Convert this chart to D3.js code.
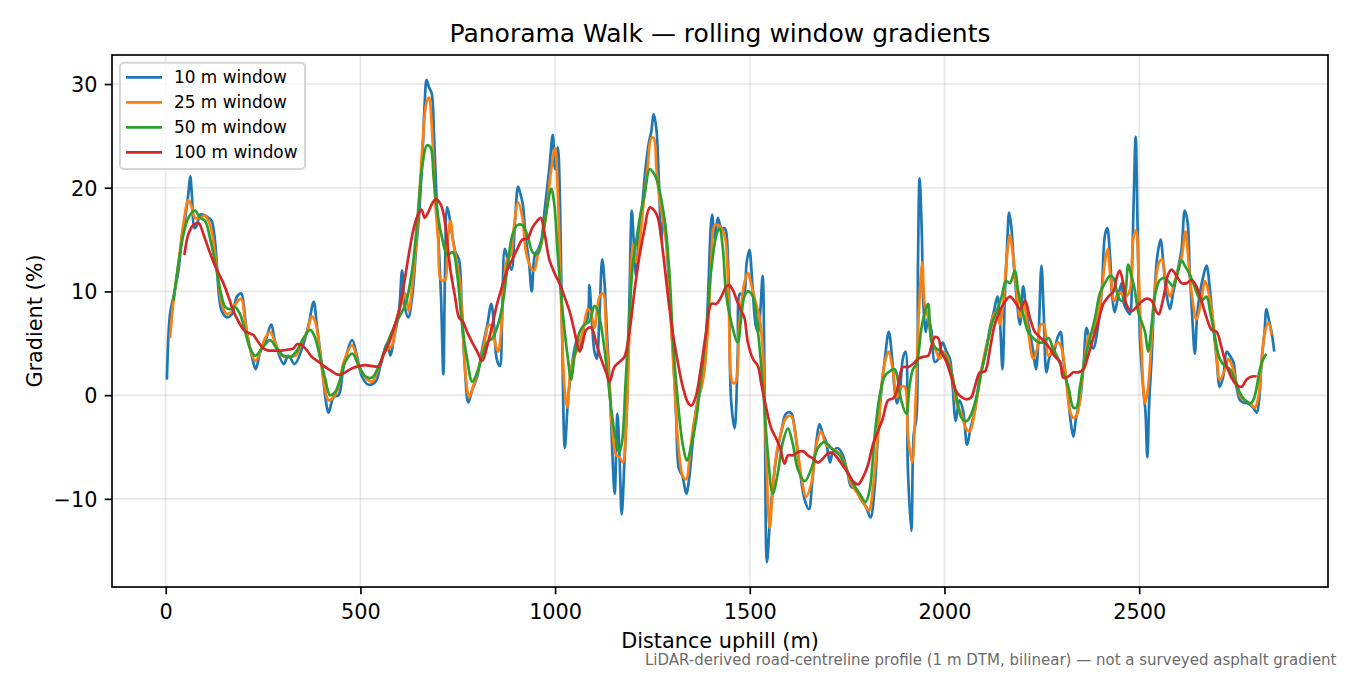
<!DOCTYPE html>
<html>
<head>
<meta charset="utf-8">
<script src="https://cdn.jsdelivr.net/npm/d3@7"></script>
<style>
  html, body { margin: 0; padding: 0; background: #ffffff; }
  svg { display: block; font-family: "DejaVu Sans", sans-serif; }
</style>
</head>
<body>
<svg id="chart" width="1350" height="675"></svg>
<script>
// ---------------- DATA ----------------
const titleText = "Panorama Walk \u2014 rolling window gradients";
const xLabelText = "Distance uphill (m)";
const yLabelText = "Gradient (%)";
const noteText = "LiDAR-derived road-centreline profile (1 m DTM, bilinear) \u2014 not a surveyed asphalt gradient";

const seriesNames = ["10 m window", "25 m window", "50 m window", "100 m window"];
const xTicks = [0, 500, 1000, 1500, 2000, 2500];
const yTicks = [-10, 0, 10, 20, 30];

// [distance (m), gradient (%)]
const win10 = [[3,1.5],[11,7.8],[20,9.5],[33,12.1],[41,15.1],[50,17.1],[58,19.4],[63,21.1],[67,19.4],[74,16.1],[80,16.4],[88,17.4],[97,17.4],[110,17.1],[118,16.8],[125,15.4],[131,12.8],[137,9.5],[144,8.1],[157,7.5],[170,7.8],[183,9.5],[194,9.8],[200,8.8],[208,6.1],[221,3.8],[231,2.5],[243,4.2],[255,5.1],[271,6.8],[281,5.1],[303,3.0],[315,3.8],[331,3.0],[350,4.5],[367,6.8],[380,9.0],[388,6.8],[401,2.8],[411,-0.5],[418,-1.7],[431,-0.2],[444,0],[457,2.8],[479,5.3],[491,3.8],[504,1.8],[521,1.0],[539,1.3],[551,2.8],[569,5.0],[577,3.8],[586,5.5],[599,8.1],[607,12.0],[614,8.5],[623,7.5],[633,9.5],[643,14.1],[650,17.1],[659,22.8],[665,28.1],[670,30.4],[676,29.7],[683,29.1],[689,25.1],[695,19.4],[701,14.5],[707,9.5],[713,2.0],[717,11.1],[723,18.1],[729,17.1],[736,15.4],[744,13.8],[753,13.1],[760,8.8],[768,2.8],[777,-0.7],[787,0.5],[800,1.8],[813,4.5],[826,6.8],[836,8.8],[843,6.8],[850,3.5],[858,2.8],[864,7.5],[871,14.1],[880,12.8],[888,12.1],[897,16.8],[905,20.1],[911,19.4],[917,18.4],[924,15.4],[933,12.8],[940,10.0],[948,13.5],[957,14.1],[965,15.0],[973,17.8],[985,21.8],[994,25.1],[1000,21.8],[1007,23.9],[1013,17.8],[1018,6.1],[1025,-5.1],[1033,-0.5],[1041,2.2],[1050,4.5],[1058,5.5],[1067,4.5],[1075,6.8],[1084,7.5],[1088,10.6],[1095,6.8],[1101,4.2],[1107,3.5],[1114,7.8],[1121,13.1],[1127,10.8],[1133,6.1],[1140,1.2],[1147,-5.5],[1153,-9.5],[1160,-1.8],[1166,-6.5],[1171,-11.5],[1178,-6.5],[1185,-0.5],[1191,9.5],[1197,17.8],[1202,14.8],[1208,11.5],[1215,15.4],[1224,18.4],[1232,21.8],[1241,24.4],[1247,25.4],[1253,27.1],[1260,25.7],[1267,20.1],[1273,15.1],[1279,17.1],[1287,14.1],[1294,9.5],[1303,4.2],[1311,-2.2],[1318,-7.1],[1327,-7.8],[1337,-9.5],[1345,-7.8],[1354,-4.2],[1363,-1.2],[1375,0.8],[1384,2.8],[1392,8.8],[1403,17.4],[1410,15.1],[1418,17.1],[1427,16.1],[1435,16.1],[1439,15.8],[1446,10.8],[1452,-0.5],[1461,-3.2],[1469,3.8],[1475,9.8],[1484,9.5],[1492,12.8],[1499,14.0],[1506,11.1],[1515,6.8],[1521,6.1],[1527,8.1],[1533,11.5],[1538,1.2],[1544,-16.1],[1551,-12.5],[1559,-8.8],[1569,-5.8],[1581,-3.5],[1593,-1.8],[1606,-1.7],[1615,-3.2],[1628,-7.1],[1641,-10.1],[1652,-11.0],[1660,-8.5],[1671,-4.5],[1679,-2.8],[1688,-3.8],[1696,-4.5],[1706,-6.5],[1713,-5.5],[1726,-5.1],[1739,-5.8],[1751,-7.5],[1760,-8.8],[1773,-9.1],[1786,-10.1],[1799,-10.8],[1810,-11.8],[1821,-8.8],[1829,-3.8],[1838,0.5],[1846,3.2],[1857,6.1],[1865,3.8],[1872,0.5],[1878,-0.8],[1885,0.2],[1893,3.5],[1900,4.2],[1906,-7.1],[1915,-13.1],[1921,-3.8],[1928,-2.2],[1932,12.8],[1936,20.9],[1942,15.4],[1945,9.5],[1952,6.1],[1958,7.5],[1967,6.1],[1975,3.2],[1984,3.5],[1995,5.1],[2005,4.2],[2014,3.5],[2021,0.8],[2029,-2.5],[2038,-0.5],[2048,-1.5],[2058,-4.8],[2067,-3.2],[2078,-1.5],[2091,1.8],[2104,3.8],[2117,6.5],[2127,8.1],[2136,9.5],[2142,7.5],[2149,2.5],[2155,9.5],[2161,14.5],[2166,17.6],[2172,16.1],[2179,12.1],[2185,9.5],[2194,6.8],[2202,10.5],[2211,7.8],[2219,6.1],[2228,4.2],[2235,2.5],[2241,5.1],[2249,12.5],[2255,7.8],[2262,2.2],[2271,3.8],[2281,4.2],[2290,5.5],[2298,6.1],[2305,3.5],[2314,1.2],[2324,-2.5],[2331,-4.0],[2338,-2.2],[2348,-0.5],[2357,2.8],[2365,6.5],[2374,5.1],[2382,4.5],[2395,6.8],[2404,10.1],[2412,15.4],[2418,16.1],[2425,13.5],[2431,9.5],[2437,8.0],[2446,9.5],[2455,10.8],[2461,8.8],[2470,8.1],[2476,7.8],[2482,12.8],[2486,18.8],[2491,24.9],[2496,16.1],[2502,5.5],[2510,0.8],[2516,-1.5],[2521,-6.0],[2526,-0.5],[2532,3.5],[2539,9.5],[2547,13.5],[2555,15.0],[2562,12.8],[2570,9.8],[2579,8.3],[2587,9.8],[2596,11.5],[2609,14.1],[2617,17.8],[2624,16.8],[2630,11.8],[2636,7.8],[2643,4.0],[2649,7.8],[2656,9.8],[2665,11.5],[2673,12.5],[2682,10.1],[2690,6.8],[2699,3.5],[2707,0.8],[2716,1.8],[2725,4.2],[2733,3.8],[2742,3.2],[2750,0.8],[2759,-0.5],[2767,-0.7],[2780,-0.8],[2793,-1.2],[2802,-1.7],[2808,-0.5],[2815,3.5],[2822,6.1],[2827,8.3],[2834,7.1],[2840,6.1],[2847,4.2]];

const win25 = [[11,5.5],[20,9.1],[33,12.8],[45,16.4],[58,18.8],[67,18.1],[75,17.1],[88,17.1],[101,17.3],[114,16.4],[125,14.1],[135,11.1],[144,8.8],[157,7.8],[170,8.1],[183,9.0],[194,9.3],[204,7.1],[217,4.5],[230,3.3],[243,4.2],[255,5.5],[268,6.1],[281,5.1],[298,3.8],[315,3.7],[333,3.8],[350,5.1],[363,6.1],[375,7.6],[384,7.1],[397,3.8],[408,0.8],[418,-0.5],[431,-0.2],[444,0.8],[457,3.2],[479,4.8],[496,2.8],[513,1.7],[530,1.3],[547,2.7],[564,4.2],[581,4.8],[594,7.5],[605,8.8],[616,9.8],[624,8.1],[633,10.5],[646,16.1],[659,23.8],[669,28.1],[676,28.7],[683,26.1],[691,19.4],[700,14.8],[707,11.1],[717,11.1],[724,14.8],[731,16.8],[738,14.8],[746,13.1],[755,11.1],[763,6.1],[772,1.2],[779,-0.2],[791,1.0],[804,2.7],[817,4.8],[830,6.8],[839,6.5],[847,4.8],[854,4.2],[861,6.1],[869,11.1],[877,13.1],[886,13.5],[894,16.1],[905,18.6],[916,17.1],[924,14.1],[935,12.5],[946,12.0],[957,13.8],[964,14.5],[977,17.4],[990,21.8],[1000,23.8],[1007,19.4],[1015,9.5],[1024,0.8],[1031,-1.2],[1039,2.2],[1047,3.5],[1058,4.5],[1071,6.1],[1084,8.3],[1093,7.8],[1101,6.5],[1114,9.5],[1123,9.8],[1131,6.1],[1140,0.5],[1148,-3.8],[1157,-5.8],[1166,-6.0],[1174,-6.5],[1183,-2.2],[1191,6.1],[1200,14.5],[1208,12.8],[1219,15.4],[1227,18.4],[1238,22.1],[1247,24.8],[1253,24.8],[1261,21.4],[1270,18.4],[1281,16.1],[1290,12.8],[1298,6.8],[1309,-0.5],[1318,-5.5],[1328,-7.8],[1337,-8.1],[1345,-6.1],[1354,-3.2],[1367,-0.5],[1380,1.5],[1392,6.1],[1401,12.8],[1410,16.4],[1418,16.4],[1427,16.1],[1437,15.1],[1446,8.5],[1456,1.2],[1463,1.2],[1473,6.8],[1486,10.8],[1495,11.8],[1503,10.8],[1516,8.8],[1525,7.5],[1533,4.5],[1542,-5.5],[1551,-12.8],[1559,-9.1],[1569,-5.5],[1581,-3.5],[1593,-2.2],[1606,-2.0],[1619,-4.2],[1632,-7.8],[1645,-9.8],[1658,-8.5],[1671,-4.8],[1683,-3.5],[1696,-4.8],[1709,-5.1],[1726,-5.5],[1743,-6.5],[1760,-8.5],[1777,-9.5],[1794,-10.5],[1806,-11.1],[1816,-9.1],[1829,-3.8],[1840,1.5],[1849,3.5],[1857,4.2],[1868,2.2],[1878,-0.2],[1889,0.8],[1898,0.8],[1906,-3.8],[1917,-6.5],[1926,-0.5],[1934,7.8],[1943,12.8],[1949,8.8],[1958,7.5],[1967,5.5],[1979,4.2],[1988,3.5],[1997,4.2],[2009,3.5],[2021,1.5],[2031,-0.8],[2044,-1.8],[2055,-3.2],[2065,-3.5],[2078,-1.5],[2091,1.5],[2104,4.2],[2117,6.1],[2127,7.8],[2136,8.1],[2142,6.8],[2151,8.8],[2159,12.8],[2168,15.4],[2176,13.5],[2185,10.1],[2195,7.5],[2204,8.8],[2215,6.1],[2228,3.5],[2238,4.5],[2247,6.8],[2255,6.8],[2267,3.8],[2279,4.5],[2292,5.1],[2301,4.5],[2312,1.8],[2322,-1.5],[2331,-2.2],[2341,-1.8],[2352,1.2],[2361,3.8],[2372,5.8],[2382,6.1],[2395,7.8],[2404,10.1],[2412,12.8],[2419,14.1],[2426,11.5],[2436,9.1],[2446,9.8],[2455,9.8],[2465,9.5],[2476,10.1],[2485,15.1],[2492,15.9],[2499,11.5],[2506,4.5],[2515,-0.8],[2523,0.8],[2532,5.5],[2542,10.8],[2551,12.8],[2559,13.1],[2568,11.1],[2579,9.5],[2590,10.8],[2600,12.1],[2610,13.5],[2619,15.8],[2627,12.8],[2636,9.5],[2647,7.3],[2658,8.8],[2669,11.0],[2677,10.1],[2688,7.8],[2699,3.8],[2707,1.5],[2719,2.3],[2729,3.5],[2739,2.8],[2750,1.2],[2761,-0.2],[2772,-0.5],[2785,-0.8],[2797,-1.2],[2806,-0.2],[2815,3.5],[2823,6.1],[2832,7.0],[2840,5.8]];

const win50 = [[20,9.1],[33,12.8],[45,15.4],[58,17.1],[75,17.8],[88,17.1],[101,16.8],[114,15.1],[127,12.8],[140,10.1],[153,8.5],[165,8.3],[178,8.5],[191,7.8],[204,6.1],[217,4.5],[230,3.8],[247,4.5],[268,5.3],[285,4.5],[303,3.8],[320,3.7],[337,4.3],[354,5.5],[371,6.3],[384,5.5],[397,3.5],[410,1.5],[422,0],[435,0.3],[448,1.5],[461,3.2],[479,4.0],[496,2.8],[513,1.8],[530,1.7],[547,2.8],[564,4.5],[581,6.1],[599,7.5],[616,8.8],[633,12.1],[646,16.8],[659,22.1],[671,24.1],[680,23.9],[688,21.1],[697,17.8],[710,15.1],[723,13.5],[737,13.8],[749,11.5],[761,6.8],[774,3.5],[787,1.3],[800,2.2],[813,3.8],[826,5.1],[839,5.5],[851,6.5],[864,8.5],[877,12.1],[890,15.4],[903,16.4],[916,16.4],[929,15.4],[942,13.8],[955,13.6],[966,15.0],[977,17.5],[990,19.9],[998,18.4],[1007,13.5],[1020,7.8],[1033,3.5],[1041,1.5],[1050,3.8],[1063,6.1],[1075,6.8],[1088,7.1],[1101,8.6],[1110,8.1],[1123,5.5],[1135,1.8],[1147,-2.2],[1157,-4.5],[1165,-5.5],[1172,-4.5],[1181,1.2],[1191,7.8],[1200,12.8],[1208,14.8],[1219,17.4],[1230,19.4],[1243,21.8],[1253,21.4],[1261,20.8],[1273,18.8],[1284,16.1],[1294,11.5],[1304,4.5],[1315,-0.5],[1328,-4.8],[1339,-6.3],[1350,-4.8],[1363,-2.2],[1375,1.8],[1388,6.1],[1401,12.1],[1414,15.4],[1422,16.1],[1431,14.1],[1439,9.8],[1452,7.1],[1469,5.1],[1478,7.5],[1486,9.5],[1495,10.0],[1508,9.5],[1521,6.1],[1533,1.2],[1546,-5.5],[1559,-9.5],[1572,-7.5],[1585,-4.5],[1598,-3.2],[1611,-4.8],[1623,-7.1],[1641,-8.3],[1658,-7.1],[1675,-5.1],[1692,-4.5],[1709,-5.1],[1731,-5.8],[1748,-7.1],[1765,-8.5],[1782,-9.5],[1797,-10.3],[1808,-9.1],[1821,-3.8],[1833,-0.2],[1846,1.8],[1859,2.3],[1872,2.5],[1880,1.5],[1889,-0.5],[1902,-1.8],[1910,0.8],[1919,2.5],[1928,3.0],[1941,6.5],[1950,8.0],[1958,8.8],[1967,5.1],[1979,4.5],[1992,4.2],[2005,3.5],[2018,2.2],[2031,-0.2],[2044,-2.2],[2057,-2.5],[2069,-1.8],[2082,-0.2],[2095,2.2],[2108,4.5],[2121,6.8],[2134,8.1],[2147,9.5],[2158,11.0],[2168,10.8],[2181,12.0],[2189,10.1],[2202,7.8],[2215,6.1],[2228,5.5],[2241,5.1],[2254,5.1],[2267,5.5],[2279,4.5],[2292,3.5],[2305,2.2],[2318,0.8],[2331,-1.2],[2339,-1.2],[2348,0.8],[2361,3.5],[2374,5.5],[2387,7.5],[2399,9.8],[2412,10.8],[2425,11.5],[2434,11.3],[2446,9.5],[2455,9.1],[2463,9.5],[2472,12.6],[2480,11.5],[2489,10.1],[2497,8.1],[2506,7.1],[2515,6.1],[2523,4.2],[2532,6.8],[2540,9.5],[2553,11.1],[2566,11.3],[2579,10.8],[2587,10.5],[2599,11.8],[2609,13.0],[2617,12.5],[2628,11.8],[2639,10.8],[2652,9.5],[2660,9.1],[2673,9.5],[2682,8.1],[2695,5.5],[2707,3.5],[2720,2.8],[2733,2.5],[2746,1.5],[2759,0.2],[2772,-0.5],[2785,-0.8],[2793,-0.5],[2802,0.8],[2810,2.5],[2819,3.5],[2827,4.0]];

const win100 = [[48,13.5],[58,15.5],[71,16.4],[84,16.6],[97,15.5],[110,14.1],[123,12.8],[135,11.8],[148,10.8],[161,9.5],[174,8.1],[187,7.1],[200,6.3],[213,6.0],[225,5.8],[238,5.1],[251,4.5],[264,4.3],[281,4.3],[298,4.3],[315,4.4],[328,4.5],[337,4.9],[350,4.8],[363,4.3],[375,3.7],[393,3.2],[410,2.7],[427,2.3],[440,2.0],[452,2.0],[465,2.3],[479,2.6],[496,2.8],[513,2.9],[530,2.8],[547,2.8],[560,4.0],[573,5.0],[586,6.5],[599,8.1],[611,10.5],[624,13.5],[637,16.1],[648,17.4],[657,17.9],[665,17.1],[676,17.8],[686,18.6],[695,18.9],[706,18.4],[714,17.4],[723,14.8],[731,12.1],[743,9.5],[753,7.5],[763,7.1],[774,6.1],[787,5.1],[800,4.2],[813,3.3],[826,4.8],[839,6.8],[851,8.8],[864,10.5],[877,12.1],[890,13.1],[903,14.1],[916,15.0],[929,15.1],[941,16.1],[954,16.8],[963,17.1],[973,15.6],[985,13.1],[998,11.8],[1011,10.8],[1024,9.5],[1037,8.1],[1050,6.1],[1063,4.2],[1071,5.1],[1080,6.3],[1093,6.5],[1105,5.1],[1118,3.5],[1131,2.2],[1140,1.3],[1152,2.7],[1165,3.2],[1178,3.7],[1191,6.1],[1204,10.1],[1217,13.5],[1230,16.1],[1243,18.1],[1255,17.8],[1264,17.1],[1277,13.8],[1290,9.5],[1303,5.8],[1315,3.2],[1328,0.8],[1341,-0.7],[1350,-1.0],[1361,-0.2],[1375,2.8],[1388,6.1],[1401,8.8],[1414,8.8],[1427,9.5],[1440,10.5],[1448,10.6],[1458,10.0],[1468,9.0],[1478,8.1],[1486,7.5],[1495,5.1],[1508,3.5],[1521,2.8],[1529,1.2],[1542,-1.2],[1555,-3.2],[1568,-4.2],[1578,-5.1],[1589,-6.6],[1598,-5.8],[1611,-5.8],[1623,-5.5],[1636,-5.4],[1649,-5.8],[1662,-6.1],[1675,-6.5],[1688,-6.1],[1701,-5.6],[1714,-5.6],[1726,-6.1],[1739,-6.8],[1752,-7.5],[1765,-8.3],[1778,-8.6],[1791,-7.9],[1803,-6.8],[1816,-4.8],[1829,-3.5],[1842,-2.2],[1855,-0.5],[1868,-0.3],[1876,0.2],[1885,1.8],[1893,2.7],[1906,2.7],[1919,3.0],[1932,3.5],[1945,3.7],[1958,3.8],[1967,4.8],[1975,5.6],[1984,5.5],[1992,4.2],[2005,3.2],[2014,2.2],[2022,1.2],[2031,0.3],[2044,-0.2],[2057,-0.4],[2069,-0.2],[2078,0.8],[2091,2.2],[2104,2.3],[2117,4.5],[2129,6.8],[2142,8.1],[2155,9.0],[2168,9.5],[2181,9.0],[2194,8.3],[2207,9.1],[2219,7.5],[2232,6.1],[2245,5.6],[2258,5.1],[2271,4.5],[2284,3.7],[2297,3.2],[2305,1.7],[2318,1.8],[2331,2.2],[2344,2.2],[2357,2.5],[2369,3.8],[2382,5.5],[2395,7.1],[2408,8.8],[2421,9.5],[2434,10.0],[2442,11.3],[2450,12.0],[2459,10.8],[2467,8.8],[2480,8.1],[2493,8.5],[2506,9.0],[2519,9.3],[2532,9.1],[2545,8.0],[2551,7.8],[2557,8.5],[2566,10.1],[2574,11.6],[2583,12.1],[2596,11.5],[2609,10.8],[2622,10.8],[2635,11.1],[2647,10.5],[2660,9.1],[2673,7.5],[2686,6.3],[2699,6.1],[2712,4.5],[2725,2.8],[2737,1.7],[2750,1.0],[2763,0.8],[2776,1.5],[2789,1.8],[2802,1.8]];

const seriesData = [win10, win25, win50, win100];
const seriesColors = ["#1f77b4", "#ff7f0e", "#2ca02c", "#d62728"];

// ---------------- LAYOUT ----------------
const W = 1350, H = 675;
const plot = { left: 112, right: 1328, top: 55, bottom: 587 };
const tickFont = 20.8, legendFont = 16.9, titleFont = 25, noteFont = 15;

const svg = d3.select("#chart");
svg.append("rect").attr("width", W).attr("height", H).attr("fill", "#ffffff");

const x = d3.scaleLinear().domain([-138, 2985]).range([plot.left, plot.right]);
const y = d3.scaleLinear().domain([-18.5, 32.8]).range([plot.bottom, plot.top]);

// grid
const grid = svg.append("g").attr("class", "grid");
grid.selectAll("line.gx").data(xTicks).enter().append("line")
  .attr("x1", d => x(d)).attr("x2", d => x(d))
  .attr("y1", plot.top).attr("y2", plot.bottom)
  .attr("stroke", "#b0b0b0").attr("stroke-opacity", 0.3).attr("stroke-width", 1.67);
grid.selectAll("line.gy").data(yTicks).enter().append("line")
  .attr("x1", plot.left).attr("x2", plot.right)
  .attr("y1", d => y(d)).attr("y2", d => y(d))
  .attr("stroke", "#b0b0b0").attr("stroke-opacity", 0.3).attr("stroke-width", 1.67);

// clip
svg.append("defs").append("clipPath").attr("id", "plotclip")
  .append("rect").attr("x", plot.left).attr("y", plot.top)
  .attr("width", plot.right - plot.left).attr("height", plot.bottom - plot.top);

const line = d3.line()
  .x(d => x(d[0])).y(d => y(d[1]))
  .curve(d3.curveCatmullRom.alpha(0.5));

const linesG = svg.append("g").attr("clip-path", "url(#plotclip)");
seriesData.forEach((data, i) => {
  linesG.append("path")
    .datum(data)
    .attr("d", line)
    .attr("fill", "none")
    .attr("stroke", seriesColors[i])
    .attr("stroke-width", 2.7)
    .attr("stroke-linejoin", "round")
    .attr("stroke-linecap", "butt");
});

// axes
const fmt = d => (d < 0 ? "\u2212" + Math.abs(d) : String(d));
const xAxis = d3.axisBottom(x).tickValues(xTicks).tickFormat(fmt).tickSize(7.3).tickPadding(7.3);
const yAxis = d3.axisLeft(y).tickValues(yTicks).tickFormat(fmt).tickSize(7.3).tickPadding(7.3);

const gx = svg.append("g").attr("transform", `translate(0,${plot.bottom})`).call(xAxis);
const gy = svg.append("g").attr("transform", `translate(${plot.left},0)`).call(yAxis);
[gx, gy].forEach(g => {
  g.select(".domain").remove();
  g.selectAll(".tick line").attr("stroke", "#000").attr("stroke-width", 1.67);
  g.selectAll(".tick text").attr("fill", "#000")
    .style("font-family", "'DejaVu Sans', sans-serif").style("font-size", tickFont + "px");
});
gx.selectAll(".tick text").attr("dy", null).attr("y", 31.5);
gy.selectAll(".tick text").attr("dy", "0.36em");

// spines
svg.append("rect")
  .attr("x", plot.left).attr("y", plot.top)
  .attr("width", plot.right - plot.left).attr("height", plot.bottom - plot.top)
  .attr("fill", "none").attr("stroke", "#000").attr("stroke-width", 1.67);

// labels
svg.append("text")
  .attr("x", (plot.left + plot.right) / 2).attr("y", 42.3)
  .attr("text-anchor", "middle").style("font-size", titleFont + "px").attr("fill", "#000")
  .text(titleText);
svg.append("text")
  .attr("x", (plot.left + plot.right) / 2).attr("y", 648)
  .attr("text-anchor", "middle").style("font-size", tickFont + "px").attr("fill", "#000")
  .text(xLabelText);
svg.append("text")
  .attr("transform", `translate(42,${(plot.top + plot.bottom) / 2}) rotate(-90)`)
  .attr("text-anchor", "middle").style("font-size", tickFont + "px").attr("fill", "#000")
  .text(yLabelText);
svg.append("text")
  .attr("x", 1336.5).attr("y", 665)
  .attr("text-anchor", "end").style("font-size", noteFont + "px").attr("fill", "#6b6b6b")
  .text(noteText);

// legend
const lg = svg.append("g");
lg.append("rect")
  .attr("x", 120).attr("y", 62.7).attr("width", 185).attr("height", 106.3)
  .attr("rx", 4).attr("ry", 4)
  .attr("fill", "#ffffff").attr("fill-opacity", 0.8)
  .attr("stroke", "#d6d6d6").attr("stroke-width", 2);
seriesNames.forEach((name, i) => {
  const cy = 77.3 + 25 * i;
  lg.append("line").attr("x1", 126).attr("x2", 162).attr("y1", cy).attr("y2", cy)
    .attr("stroke", seriesColors[i]).attr("stroke-width", 2.7);
  lg.append("text").attr("x", 174).attr("y", cy + 6)
    .style("font-size", legendFont + "px").attr("fill", "#000").text(name);
});
</script>
</body>
</html>
